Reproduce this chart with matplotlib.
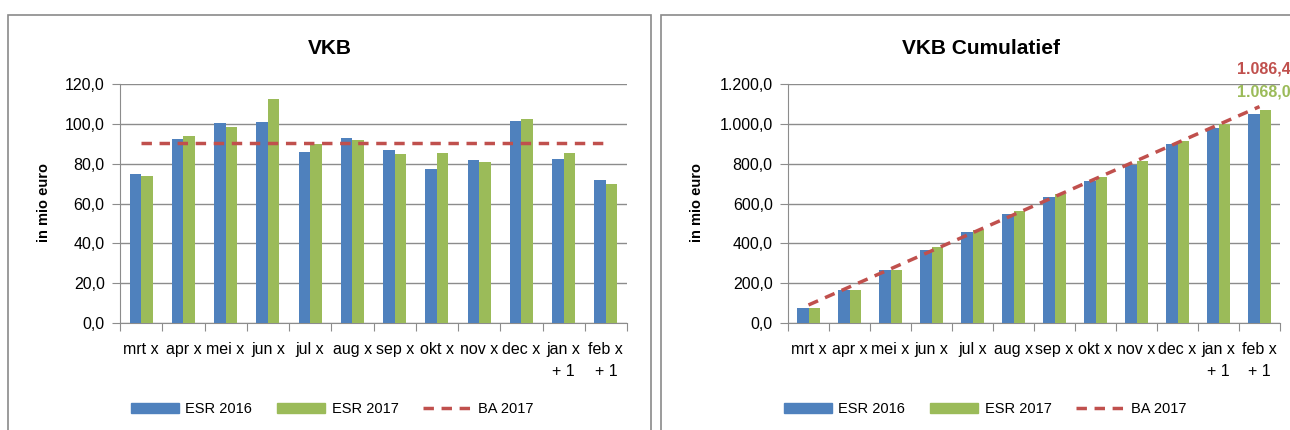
import numpy as np
import matplotlib.pyplot as plt
from matplotlib.patches import Rectangle
from matplotlib.lines import Line2D
from matplotlib.ticker import FuncFormatter

plt.rcParams['font.family'] = ['Liberation Sans Narrow', 'Liberation Sans', 'DejaVu Sans']

# data
maanden = ['mrt x', 'apr x', 'mei x', 'jun x', 'jul x', 'aug x', 'sep x',
           'okt x', 'nov x', 'dec x', 'jan x\n+ 1', 'feb x\n+ 1']
esr_2016 = [75.0, 92.5, 100.5, 101.0, 86.0, 93.0, 87.0, 77.5, 82.0, 101.5, 82.5, 72.0]
esr_2017 = [74.0, 94.0, 98.5, 112.5, 90.0, 92.0, 85.0, 85.5, 81.0, 102.5, 85.5, 70.0]
ba_2017 = [90.5, 90.5, 90.5, 90.5, 90.5, 90.5, 90.5, 90.5, 90.5, 90.5, 90.5, 90.5]

esr_2016_cum = [75, 168, 268, 368, 456, 548, 633, 712, 795, 897, 978, 1050]
esr_2017_cum = [74, 168, 268, 380, 467, 562, 646, 731, 812, 916, 1001, 1068]
ba_2017_cum = [90.5, 181.1, 271.6, 362.1, 452.7, 543.2, 633.7, 724.3, 814.8, 905.3, 995.9, 1086.4]

BLUE = '#4F81BD'
GREEN = '#9BBB59'
RED = '#C0504D'
GRID = '#8C8C8C'

W, H = 1290, 430
fig = plt.figure(figsize=(W / 100, H / 100), dpi=100)


def fx(px):
    return px / W


def fy(py):
    return 1 - py / H


def nl(v, pos):
    s = f'{v:,.1f}'
    return s.replace(',', 'X').replace('.', ',').replace('X', '.')


# chart frames
for x0, x1 in [(8, 651), (661, 1310)]:
    fig.patches.append(Rectangle((fx(x0), fy(440)), fx(x1 - x0), (440 - 15) / H,
                                 transform=fig.transFigure, fill=False,
                                 edgecolor='#8A8A8A', linewidth=1.2))


def draw(left, right, s16, s17, ba, ymax, ystep, title, tcx, ylx, legx):
    ax = fig.add_axes([fx(left), fy(323), fx(right - left), (323 - 84) / H])
    x = np.arange(len(maanden))
    w = 0.27
    ax.bar(x - w / 2, s16, w, color=BLUE, zorder=3)
    ax.bar(x + w / 2, s17, w, color=GREEN, zorder=3)
    ax.plot(x, ba, color=RED, lw=2.5, dashes=(3, 2.2), zorder=4)
    ax.set_xlim(-0.5, len(maanden) - 0.5)
    ax.set_ylim(0, ymax)
    ax.set_yticks(np.arange(0, ymax + 1, ystep))
    ax.yaxis.set_major_formatter(FuncFormatter(nl))
    ax.grid(axis='y', color=GRID, lw=1, zorder=0)
    ax.set_xticks(np.arange(-0.5, len(maanden)), minor=False)
    ax.set_xticklabels([])
    ax.set_xticks(x, minor=True)
    ax.set_xticklabels(maanden, minor=True, fontsize=11.5, va='top', linespacing=1.55)
    ax.tick_params(axis='x', which='major', length=6, color=GRID, direction='out')
    ax.tick_params(axis='x', which='minor', length=0, pad=14)
    ax.tick_params(axis='y', length=6, color=GRID, labelsize=11.5, pad=5)
    for s in ['top', 'right']:
        ax.spines[s].set_visible(False)
    for s in ['left', 'bottom']:
        ax.spines[s].set_color(GRID)
    fig.text(fx(tcx), fy(48), title, ha='center', va='center',
             fontsize=15, fontweight='bold', family=['Liberation Sans', 'DejaVu Sans'])
    fig.text(fx(ylx), fy(203), 'in mio euro', rotation=90, ha='center', va='center',
             fontsize=10.5, fontweight='bold', family=['Liberation Sans', 'DejaVu Sans'])
    handles = [Rectangle((0, 0), 1, 1, color=BLUE), Rectangle((0, 0), 1, 1, color=GREEN),
               Line2D([0], [0], color=RED, lw=2.5, dashes=(3, 2.2))]
    fig.legend(handles, ['ESR 2016', 'ESR 2017', 'BA 2017'], loc='center',
               bbox_to_anchor=(fx(legx), fy(409)), ncol=3, frameon=False,
               fontsize=10.5, handlelength=3.3, handletextpad=0.45, columnspacing=1.7)
    return ax


draw(120, 627, esr_2016, esr_2017, ba_2017, 120, 20, 'VKB', 330, 44, 332)
ax2 = draw(788, 1280, esr_2016_cum, esr_2017_cum, ba_2017_cum, 1200, 200,
           'VKB Cumulatief', 981, 697, 985)

ax2.annotate(nl(ba_2017_cum[-1], 0), xy=(11, ba_2017_cum[-1]), xytext=(-22, 38),
             textcoords='offset pixels', ha='left', va='center', color=RED,
             fontsize=11.5, fontweight='bold', annotation_clip=False)
ax2.annotate(nl(esr_2017_cum[-1], 0), xy=(11, esr_2017_cum[-1]), xytext=(-22, 18),
             textcoords='offset pixels', ha='left', va='center', color=GREEN,
             fontsize=11.5, fontweight='bold', annotation_clip=False)

plt.savefig('out.png', dpi=100, facecolor='white')
